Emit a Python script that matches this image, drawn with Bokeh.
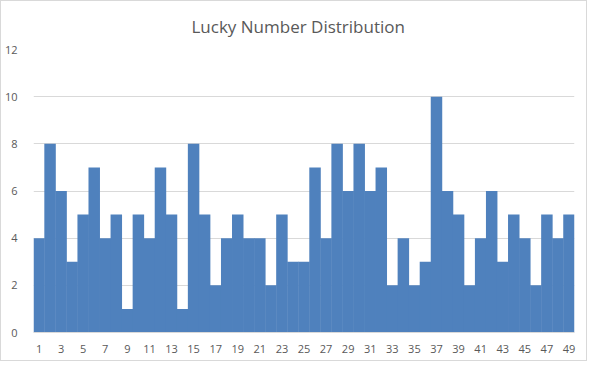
from bokeh.plotting import figure
from bokeh.models import FixedTicker, Range1d
from bokeh.embed import file_html
from bokeh.resources import INLINE

numbers = list(range(1, 50))
counts = [4, 8, 6, 3, 5, 7, 4, 5, 1, 5, 4, 7, 5, 1, 8, 5, 2, 4, 5, 4, 4, 2, 5, 3, 3,
          7, 4, 8, 6, 8, 6, 7, 2, 4, 2, 3, 10, 6, 5, 2, 4, 6, 3, 5, 4, 2, 5, 4, 5]
x_ticks = list(range(1, 50, 2))
y_ticks = [0, 2, 4, 6, 8, 10, 12]
title_text = "Lucky Number Distribution"

p = figure(width=587, height=361, output_backend="svg", toolbar_location=None,
           x_range=Range1d(0.5, 49.5), y_range=Range1d(0, 12),
           min_border_left=30, min_border_right=14, min_border_top=47, min_border_bottom=30)

p.vbar(x=numbers, top=counts, width=1.04, bottom=0, fill_color="#4f81bd", line_color=None)

p.title.text = title_text
p.title.align = "left"
p.title.offset = 158
p.title.standoff = 23
p.title.text_font = "Open Sans"
p.title.text_font_style = "normal"
p.title.text_font_size = "17px"
p.title.text_color = "#595959"

p.outline_line_color = None
p.background_fill_color = "white"
p.border_fill_color = "white"

p.xgrid.grid_line_color = None
p.ygrid.grid_line_color = "#d9d9d9"
p.ygrid.ticker = FixedTicker(ticks=y_ticks)

p.xaxis.ticker = FixedTicker(ticks=x_ticks)
p.xaxis.major_tick_line_color = None
p.xaxis.minor_tick_line_color = None
p.xaxis.axis_line_color = "#d9d9d9"
p.xaxis.major_label_text_font = "Open Sans"
p.xaxis.major_label_text_font_size = "11px"
p.xaxis.major_label_text_color = "#595959"
p.xaxis.major_label_standoff = 6

p.yaxis.ticker = FixedTicker(ticks=y_ticks)
p.yaxis.major_tick_line_color = None
p.yaxis.minor_tick_line_color = None
p.yaxis.axis_line_color = None
p.yaxis.major_label_text_font = "Open Sans"
p.yaxis.major_label_text_font_size = "11px"
p.yaxis.major_label_text_color = "#595959"
p.yaxis.major_label_standoff = 10

p.styles = {"border": "1px solid #d9d9d9"}

open("out.html", "w").write(file_html(p, INLINE))
